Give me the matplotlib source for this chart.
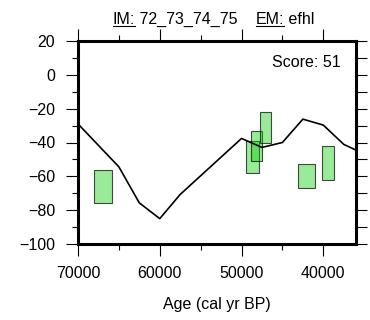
import matplotlib
matplotlib.use("Agg")
import matplotlib.pyplot as plt
from matplotlib.lines import Line2D
import numpy as np

plt.rcParams['font.family'] = ['Liberation Sans', 'DejaVu Sans']

# model curve (age, value)
curve_age = [70000, 65000, 62500, 60000, 57500, 50000, 47500, 45000, 42500, 40000, 37500, 36000]
curve_val = [-29, -54.4, -75.7, -85, -70.7, -37.6, -42.9, -40, -26.2, -29.7, -41.1, -44.5]

# data boxes: age range and value range
box_old = [68100, 49450, 48900, 47800, 43050, 40150]
box_young = [65800, 47850, 47450, 46400, 41050, 38750]
box_low = [-76, -58, -51, -40, -67, -62]
box_high = [-56, -39, -33, -22, -53, -42]

title_parts = ["IM:", " 72_73_74_75    ", "EM:", " efhl"]
underlined = [True, False, True, False]
score_text = "Score: 51"

W, H = 370, 320
fig = plt.figure(figsize=(W / 100, H / 100), dpi=100)
ax = fig.add_axes([78 / W, 1 - 244 / H, (356 - 78) / W, (244 - 41) / H])

old = np.array(box_old)
young = np.array(box_young)
low = np.array(box_low)
high = np.array(box_high)
ax.bar((old + young) / 2, high - low, width=old - young, bottom=low,
       facecolor=(0.0, 0.8, 0.0, 0.4), edgecolor=(0, 0, 0, 0.7),
       linewidth=0.8, zorder=2)
ax.plot(curve_age, curve_val, color='black', lw=1.2, zorder=3)

ax.set_xlim(70000, 36000)
ax.set_ylim(-100, 20)
ax.set_xticks([70000, 60000, 50000, 40000])
ax.set_xticks([65000, 55000, 45000], minor=True)
ax.set_yticks([20, 0, -20, -40, -60, -80, -100])
ax.set_yticks([10, -10, -30, -50, -70, -90], minor=True)
ax.tick_params(which='both', direction='out', width=0.8, labelsize=11.5,
               top=True, right=False)
ax.tick_params(which='major', length=8.5)
ax.tick_params(which='minor', length=4.5)
ax.tick_params(axis='x', pad=7)
ax.tick_params(axis='y', pad=8)
for s in ax.spines.values():
    s.set_linewidth(2.2)

# right side ticks, all equal length
ax2 = ax.twinx()
ax2.set_ylim(-100, 20)
ax2.set_yticks(np.arange(-100, 21, 10))
ax2.tick_params(axis='y', direction='out', length=8, width=0.8, labelright=False)
for s in ax2.spines.values():
    s.set_visible(False)

ax.set_xlabel("Age (cal yr BP)", fontsize=11.5, labelpad=12)
ax.text(0.945, 0.873, score_text, transform=ax.transAxes, ha='right',
        va='baseline', fontsize=11.5)

# title with underlined labels
prev = None
texts = []
for part in title_parts:
    if prev is None:
        t = fig.text(113 / W, 1 - 24 / H, part, ha='left', va='baseline', fontsize=11.5)
    else:
        t = ax.annotate(part, xy=(1, 0), xycoords=prev, ha='left', va='bottom',
                        fontsize=11.5, annotation_clip=False)
    texts.append(t)
    prev = t

fig.canvas.draw()
r = fig.canvas.get_renderer()
for t, u in zip(texts, underlined):
    if not u:
        continue
    bb = t.get_window_extent(r)
    y = (H - 25.5) / H
    fig.add_artist(Line2D([bb.x0 / W, bb.x1 / W], [y, y], color='black', lw=0.8,
                          transform=fig.transFigure))

fig.savefig("out.png", dpi=100)
